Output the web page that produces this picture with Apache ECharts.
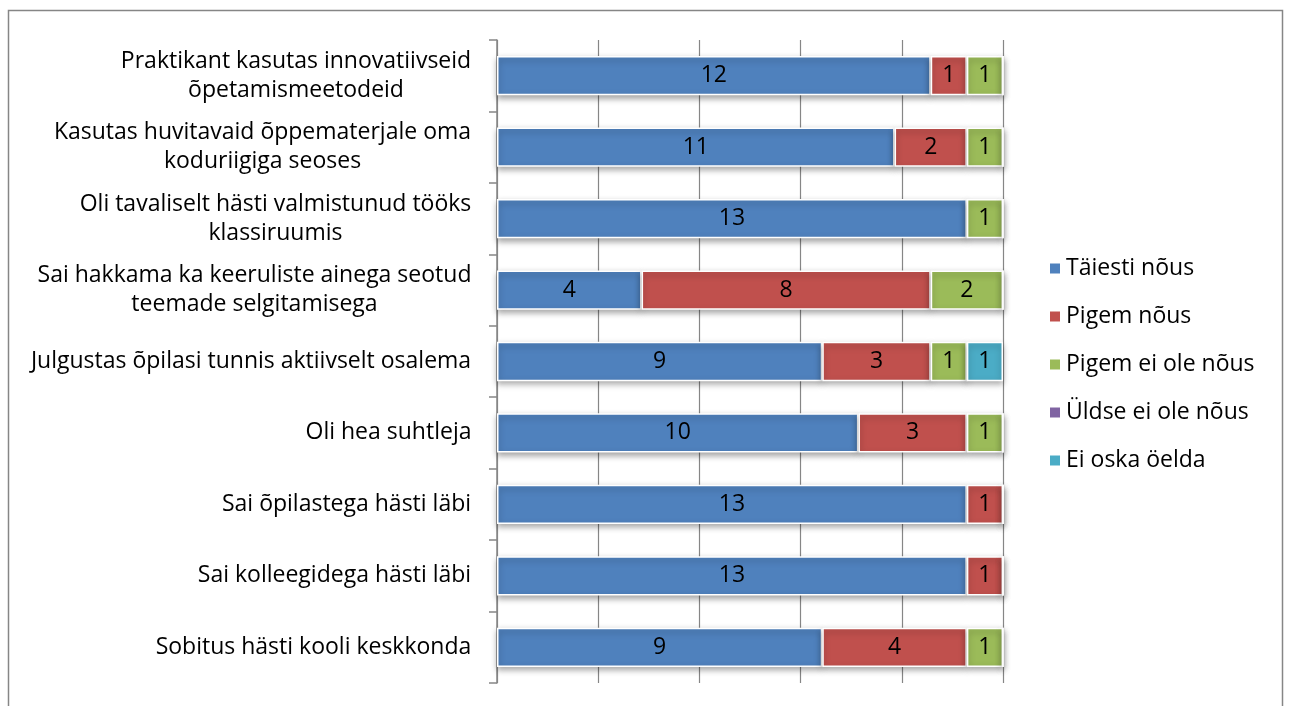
<!DOCTYPE html>
<html>
<head>
<meta charset="utf-8">
<script src="https://cdn.jsdelivr.net/npm/echarts@6/dist/echarts.min.js"></script>
<style>
  html, body { margin: 0; padding: 0; background: #fff; }
  #chart { width: 1289px; height: 706px; }
</style>
</head>
<body>
<div id="chart"></div>
<script>
var categories = [
  'Praktikant kasutas innovatiivseid\nõpetamismeetodeid',
  'Kasutas huvitavaid õppematerjale oma\nkoduriigiga seoses',
  'Oli tavaliselt hästi valmistunud tööks\nklassiruumis',
  'Sai hakkama ka keeruliste ainega seotud\nteemade selgitamisega',
  'Julgustas õpilasi tunnis aktiivselt osalema',
  'Oli hea suhtleja',
  'Sai õpilastega hästi läbi',
  'Sai kolleegidega hästi läbi',
  'Sobitus hästi kooli keskkonda'
]
var seriesNames = ['Täiesti nõus', 'Pigem nõus', 'Pigem ei ole nõus', 'Üldse ei ole nõus', 'Ei oska öelda']
var taiestiNous = [12, 11, 13, 4, 9, 10, 13, 13, 9]
var pigemNous = [1, 2, 0, 8, 3, 3, 1, 1, 4]
var pigemEiOleNous = [1, 1, 1, 2, 1, 1, 0, 0, 1]
var uldseEiOleNous = [0, 0, 0, 0, 0, 0, 0, 0, 0]
var eiOskaOelda = [0, 0, 0, 0, 1, 0, 0, 0, 0]
var colors = ['#4F81BD', '#C0504D', '#9BBB59', '#8064A2', '#4BACC6']

var FONT = 'Open Sans'
var FS = 23

// lines of a multi-line label are centered against each other
var ctx = document.createElement('canvas').getContext('2d')
ctx.font = FS + 'px ' + FONT
var rich = {}
categories.forEach(function (c, i) {
  var w = 0
  c.split('\n').forEach(function (l) { w = Math.max(w, ctx.measureText(l).width) })
  rich['l' + i] = { width: Math.ceil(w) + 1, align: 'center', fontFamily: FONT, fontSize: FS, lineHeight: 29, color: '#000' }
})

var allData = [taiestiNous, pigemNous, pigemEiOleNous, uldseEiOleNous, eiOskaOelda]
var series = seriesNames.map(function (name, k) {
  return {
    name: name,
    type: 'bar',
    stack: 'total',
    barWidth: '55%',
    data: allData[k],
    itemStyle: {
      color: colors[k],
      borderColor: '#fff',
      borderWidth: 1.5,
      shadowColor: 'rgba(0,0,0,0.35)',
      shadowBlur: 6,
      shadowOffsetY: 3
    },
    label: {
      show: true,
      position: 'inside',
      color: '#000',
      fontFamily: FONT,
      fontSize: FS,
      formatter: function (p) { return p.value ? String(p.value) : '' }
    }
  }
})

var chart = echarts.init(document.getElementById('chart'))
chart.setOption({
  animation: false,
  backgroundColor: '#fff',
  graphic: [{
    type: 'rect',
    shape: { x: 8.5, y: 10.5, width: 1274, height: 720 },
    style: { fill: 'none', stroke: '#868686', lineWidth: 1.5 },
    silent: true
  }],
  grid: { left: 497, right: 286, top: 40, bottom: 23 },
  legend: {
    orient: 'vertical',
    left: 1043,
    top: 252,
    icon: 'rect',
    itemWidth: 12,
    itemHeight: 12,
    itemGap: 25,
    textStyle: { fontFamily: FONT, fontSize: FS, color: '#000' },
    data: seriesNames
  },
  xAxis: {
    type: 'value',
    min: 0,
    max: 14,
    interval: 2.8,
    axisLine: { show: false },
    axisTick: { show: false },
    axisLabel: { show: false },
    splitLine: { show: true, lineStyle: { color: '#868686', width: 1.2 } }
  },
  yAxis: {
    type: 'category',
    inverse: true,
    data: categories,
    axisLine: { show: true, lineStyle: { color: '#868686', width: 1.5 } },
    axisTick: { show: true, length: 8, lineStyle: { color: '#868686', width: 1.5 } },
    axisLabel: {
      margin: 25,
      rich: rich,
      formatter: function (v, i) {
        return v.split('\n').map(function (l) { return '{l' + i + '|' + l + '}' }).join('\n')
      }
    }
  },
  series: series
})
</script>
</body>
</html>
